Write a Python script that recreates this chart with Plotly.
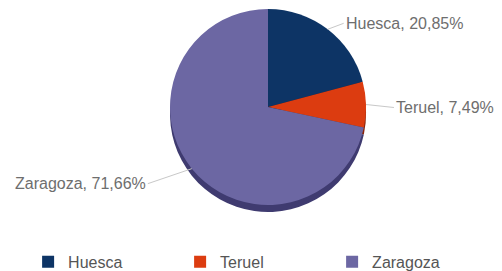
import math
import plotly.graph_objects as go

labels = ["Huesca", "Teruel", "Zaragoza"]
values = [20.85, 7.49, 71.66]
label_texts = ["Huesca, 20,85%", "Teruel, 7,49%", "Zaragoza, 71,66%"]
colors = ["#0d3465", "#dc3c10", "#6c67a3"]
shadow_colors = ["#061d3d", "#8a240a", "#3f3b70"]

W, H = 502, 271
CX, CY, R, DEPTH = 268, 107, 98, 7

def px_domain(x0, x1, y0, y1):
    return dict(x=[x0 / W, x1 / W], y=[1 - y1 / H, 1 - y0 / H])

fig = go.Figure()

# depth / shadow pie
fig.add_trace(go.Pie(
    labels=labels, values=values, sort=False, direction="clockwise",
    marker=dict(colors=shadow_colors, line=dict(width=0)),
    textinfo="none", hoverinfo="skip", showlegend=False,
    domain=px_domain(CX - R, CX + R, CY - R + DEPTH, CY + R + DEPTH),
))

fig.add_trace(go.Pie(
    labels=labels, values=values, sort=False, direction="clockwise",
    marker=dict(colors=colors, line=dict(width=0)),
    textinfo="none",
    hoverinfo="skip",
    domain=px_domain(CX - R, CX + R, CY - R, CY + R),
))

# outside labels with leader lines, anchored at each slice's mid angle
total = sum(values)
label_style = [  # (ax, ay, xanchor)
    (16, -6, "left"),
    (28, 3, "left"),
    (-44, 15, "right"),
]
cum = 0.0
for txt, v, (ax, ay, xa) in zip(label_texts, values, label_style):
    mid = (cum + v / 2) / total * 2 * math.pi
    cum += v
    px = CX + R * math.sin(mid)
    py = CY - R * math.cos(mid)
    fig.add_annotation(
        x=px / W, y=1 - py / H, xref="paper", yref="paper",
        text=txt, showarrow=True, arrowhead=0, arrowwidth=1, arrowcolor="#c8c8c8",
        ax=ax, ay=ay, xanchor=xa, yanchor="middle",
        font=dict(family="Liberation Sans, Arial, sans-serif", size=16, color="#6e6e6e"),
    )

fig.update_layout(
    width=W, height=H,
    margin=dict(l=0, r=0, t=0, b=0, autoexpand=False),
    paper_bgcolor="white",
    showlegend=True,
    legend=dict(
        orientation="h", x=0.056, xanchor="left",
        y=0.034, yanchor="middle",
        font=dict(family="Liberation Sans, Arial, sans-serif", size=16, color="#555555"),
        entrywidth=107, entrywidthmode="pixels",
        traceorder="normal",
    ),
)

fig.write_html("out.html", config={"displayModeBar": False},
               post_script="document.body.style.margin='0';")
